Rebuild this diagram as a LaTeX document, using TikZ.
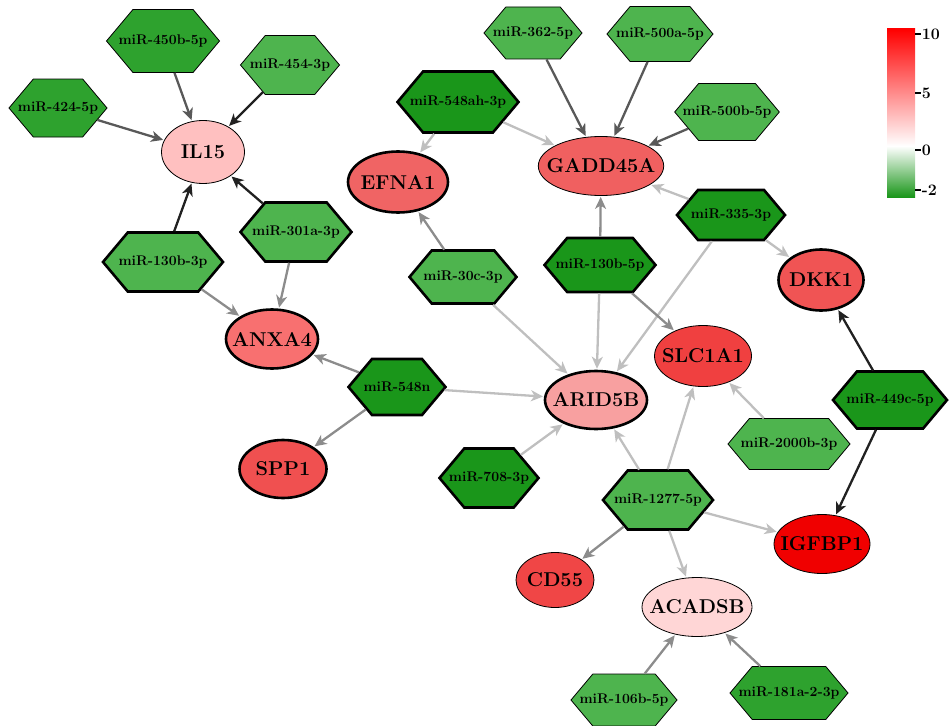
\documentclass[tikz,border=0pt]{standalone}
\usepackage{fontspec}
\usetikzlibrary{shapes.geometric,shapes.symbols,arrows.meta}
\definecolor{gA}{RGB}{26,150,26}
\definecolor{gB}{RGB}{46,162,46}
\definecolor{gC}{RGB}{78,180,78}
\definecolor{rIL}{RGB}{255,192,192}
\definecolor{rGA}{RGB}{240,96,96}
\definecolor{rEF}{RGB}{240,100,100}
\definecolor{rAN}{RGB}{248,112,112}
\definecolor{rSP}{RGB}{240,80,80}
\definecolor{rDK}{RGB}{240,84,84}
\definecolor{rSL}{RGB}{240,64,64}
\definecolor{rAR}{RGB}{248,160,160}
\definecolor{rIG}{RGB}{240,0,0}
\definecolor{rCD}{RGB}{240,70,70}
\definecolor{rAC}{RGB}{255,214,214}
\definecolor{eA}{gray}{0.13}
\definecolor{eB}{gray}{0.35}
\definecolor{eC}{gray}{0.55}
\definecolor{eD}{gray}{0.75}
\tikzset{
  mir/.style={signal, signal to=east and west, signal pointer angle=100, draw=black,
    inner ysep=1pt, inner xsep=-16pt,
    font=\bfseries\fontsize{14}{16}\selectfont},
  gene/.style={ellipse, draw=black, inner ysep=0pt, inner xsep=-10pt,
    font=\bfseries\fontsize{20}{22}\selectfont},
  bthin/.style={line width=0.8pt},
  bthk/.style={line width=2.6pt},
  lnk/.style={line width=2.3pt, -{Stealth[length=12pt,width=11pt,inset=3.5pt]}, shorten >=1pt},
  tickl/.style={line width=1.5pt},
  barlab/.style={anchor=west, inner sep=0pt, font=\bfseries\fontsize{16}{18}\selectfont}
}
\begin{document}
\begin{tikzpicture}[x=1pt,y=-1pt]
\useasboundingbox (0,0) rectangle (952,725);
% genes
\node[gene,bthin,fill=rIL,minimum width=83pt,minimum height=63pt] (IL15) at (203,152) {IL15};
\node[gene,bthin,fill=rGA,minimum width=124pt,minimum height=59pt] (GADD) at (601,166) {GADD45A};
\node[gene,bthk,fill=rEF,minimum width=100pt,minimum height=61pt] (EFNA) at (398,182) {EFNA1};
\node[gene,bthk,fill=rAN,minimum width=92pt,minimum height=59pt] (ANXA) at (272,339) {ANXA4};
\node[gene,bthk,fill=rSP,minimum width=87pt,minimum height=58pt] (SPP) at (283,469) {SPP1};
\node[gene,bthk,fill=rDK,minimum width=85pt,minimum height=61pt] (DKK) at (821,280) {DKK1};
\node[gene,bthin,fill=rSL,minimum width=97pt,minimum height=61pt] (SLC) at (703,356) {SLC1A1};
\node[gene,bthk,fill=rAR,minimum width=102pt,minimum height=58pt] (ARID) at (596,400) {ARID5B};
\node[gene,bthin,fill=rIG,minimum width=96pt,minimum height=59pt] (IGF) at (822,544) {IGFBP1};
\node[gene,bthin,fill=rCD,minimum width=78pt,minimum height=55pt] (CD) at (555,580) {CD55};
\node[gene,bthin,fill=rAC,minimum width=110pt,minimum height=59pt] (ACA) at (697,607) {ACADSB};
% miRNAs
\node[mir,bthin,fill=gB,minimum width=113pt,minimum height=63pt] (m450b) at (163,41) {miR-450b-5p};
\node[mir,bthin,fill=gC,minimum width=99pt,minimum height=59pt] (m454) at (290,65) {miR-454-3p};
\node[mir,bthin,fill=gB,minimum width=98pt,minimum height=58pt] (m424) at (58,108) {miR-424-5p};
\node[mir,bthk,fill=gC,minimum width=111pt,minimum height=59pt] (m301) at (296,232) {miR-301a-3p};
\node[mir,bthk,fill=gC,minimum width=120pt,minimum height=59pt] (m130b3) at (163,262) {miR-130b-3p};
\node[mir,bthk,fill=gA,minimum width=97pt,minimum height=56pt] (m548n) at (397,387) {miR-548n};
\node[mir,bthk,fill=gC,minimum width=107pt,minimum height=53pt] (m30c) at (463,277) {miR-30c-3p};
\node[mir,bthk,fill=gA,minimum width=121pt,minimum height=61pt] (m548ah) at (458,102) {miR-548ah-3p};
\node[mir,bthin,fill=gC,minimum width=98pt,minimum height=52pt] (m362) at (533,33) {miR-362-5p};
\node[mir,bthin,fill=gC,minimum width=106pt,minimum height=55pt] (m500a) at (660,34) {miR-500a-5p};
\node[mir,bthin,fill=gC,minimum width=102pt,minimum height=57pt] (m500b) at (727,112) {miR-500b-5p};
\node[mir,bthk,fill=gA,minimum width=108pt,minimum height=50pt] (m335) at (731,215) {miR-335-3p};
\node[mir,bthk,fill=gA,minimum width=111pt,minimum height=54pt] (m130b5) at (600,265) {miR-130b-5p};
\node[mir,bthk,fill=gA,minimum width=114pt,minimum height=57pt] (m449) at (890,400) {miR-449c-5p};
\node[mir,bthin,fill=gC,minimum width=122pt,minimum height=51pt] (m2000) at (789,444) {miR-2000b-3p};
\node[mir,bthk,fill=gA,minimum width=99pt,minimum height=59pt] (m708) at (489,478) {miR-708-3p};
\node[mir,bthk,fill=gC,minimum width=110pt,minimum height=59pt] (m1277) at (658,500) {miR-1277-5p};
\node[mir,bthin,fill=gC,minimum width=106pt,minimum height=52pt] (m106) at (624,700) {miR-106b-5p};
\node[mir,bthin,fill=gB,minimum width=118pt,minimum height=53pt] (m181) at (789,693) {miR-181a-2-3p};
% links
\draw[lnk,eB] (m450b) -- (IL15);
\draw[lnk,eA] (m454) -- (IL15);
\draw[lnk,eB] (m424) -- (IL15);
\draw[lnk,eA] (m130b3) -- (IL15);
\draw[lnk,eA] (m301) -- (IL15);
\draw[lnk,eC] (m130b3) -- (ANXA);
\draw[lnk,eC] (m301) -- (ANXA);
\draw[lnk,eC] (m548n) -- (ANXA);
\draw[lnk,eC] (m548n) -- (SPP);
\draw[lnk,eD] (m548n) -- (ARID);
\draw[lnk,eD] (m548ah) -- (EFNA);
\draw[lnk,eD] (m548ah) -- (GADD);
\draw[lnk,eB] (m362) -- (GADD);
\draw[lnk,eB] (m500a) -- (GADD);
\draw[lnk,eB] (m500b) -- (GADD);
\draw[lnk,eD] (m335) -- (GADD);
\draw[lnk,eD] (m335) -- (DKK);
\draw[lnk,eD] (m335) -- (ARID);
\draw[lnk,eC] (m30c) -- (EFNA);
\draw[lnk,eD] (m30c) -- (ARID);
\draw[lnk,eC] (m130b5) -- (GADD);
\draw[lnk,eD] (m130b5) -- (ARID);
\draw[lnk,eC] (m130b5) -- (SLC);
\draw[lnk,eA] (m449) -- (DKK);
\draw[lnk,eA] (m449) -- (IGF);
\draw[lnk,eD] (m2000) -- (SLC);
\draw[lnk,eD] (m708) -- (ARID);
\draw[lnk,eD] (m1277) -- (ARID);
\draw[lnk,eD] (m1277) -- (SLC);
\draw[lnk,eD] (m1277) -- (IGF);
\draw[lnk,eC] (m1277) -- (CD);
\draw[lnk,eD] (m1277) -- (ACA);
\draw[lnk,eC] (m106) -- (ACA);
\draw[lnk,eC] (m181) -- (ACA);
% colour bar
\shade[top color=red, bottom color=white] (887,29) rectangle (915,146);
\shade[top color=white, bottom color=gA] (887,146) rectangle (915,197);
\coordinate (t10) at (915,34);
\coordinate (t5) at (915,93);
\coordinate (t0) at (915,150);
\coordinate (tm2) at (915,190);
\draw[tickl] (t10) -- ++(6,0) node[barlab] (l10) {10};
\draw[tickl] (t5) -- ++(6,0) node[barlab] (l5) {5};
\draw[tickl] (t0) -- ++(6,0) node[barlab] (l0) {0};
\draw[tickl] (tm2) -- ++(6,0) node[barlab] (lm2) {-2};
\end{tikzpicture}
\end{document}
